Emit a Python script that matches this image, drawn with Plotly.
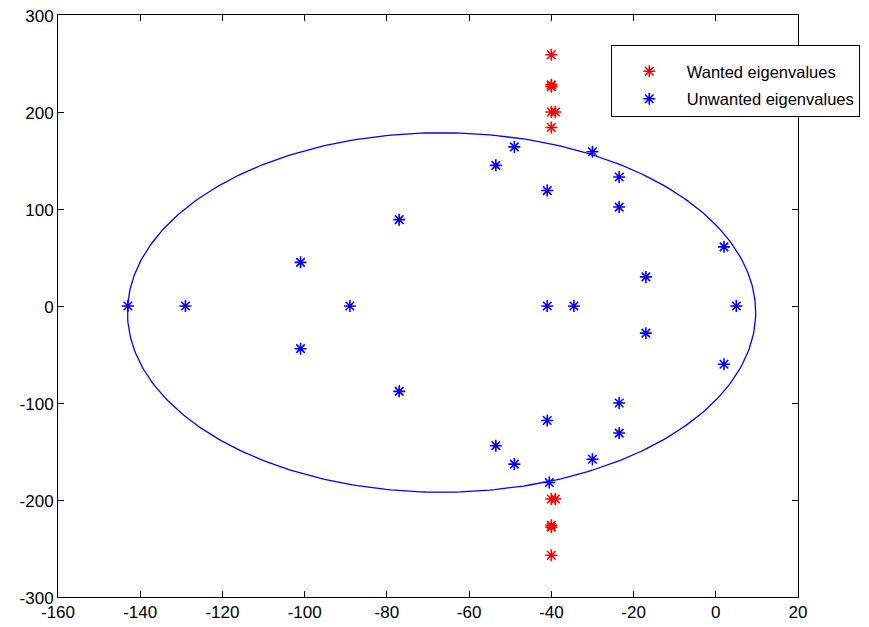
import numpy as np
import plotly.graph_objects as go

# Wanted eigenvalues (red)
wanted_re = [-40, -40, -40, -40, -39, -40, -39, -40, -40, -40, -40]
wanted_im = [259, 228, 226, 200, 200, 184, -199, -199, -226, -228, -257]

# Unwanted eigenvalues (blue)
unwanted_re = [-143, -129, -89, -41, -34.5, 5,
               -101, -77, -53.5, -49, -41, -30, -23.5, -23.5, -17, 2,
               -101, -77, -53.5, -49, -41, -30, -23.5, -23.5, -17, 2, -40.5]
unwanted_im = [0, 0, 0, 0, 0, 0,
               45, 89, 145, 164, 119, 159, 133, 102, 30, 61,
               -44, -88, -144, -163, -118, -158, -131, -100, -28, -60, -182]

# Ellipse (contour) parameters
ell_cx, ell_cy = -66.7, -6.7
ell_a, ell_b = 76.4, 185.3

x_ticks = [-160, -140, -120, -100, -80, -60, -40, -20, 0, 20]
y_ticks = [-300, -200, -100, 0, 100, 200, 300]

t = np.linspace(0, 2 * np.pi, 400)
ell_x = ell_cx + ell_a * np.cos(t)
ell_y = ell_cy + ell_b * np.sin(t)

fig = go.Figure()
fig.add_trace(go.Scatter(x=ell_x, y=ell_y, mode="lines",
                         line=dict(color="#0000ff", width=1.3),
                         showlegend=False, hoverinfo="skip"))
fig.add_trace(go.Scatter(x=wanted_re, y=wanted_im, mode="markers",
                         name="Wanted eigenvalues", legendgroup="w",
                         marker=dict(symbol="asterisk-open", size=10, color="#ff0000",
                                     line=dict(color="#ff0000", width=1.6))))
fig.add_trace(go.Scatter(x=unwanted_re, y=unwanted_im, mode="markers",
                         name="Unwanted eigenvalues", legendgroup="u",
                         marker=dict(symbol="asterisk-open", size=10, color="#0000ff",
                                     line=dict(color="#0000ff", width=1.6))))

axis_common = dict(showgrid=False, zeroline=False, showline=True,
                   linecolor="black", linewidth=1, mirror="ticks",
                   ticks="inside", ticklen=6, tickcolor="black", automargin=False,
                   ticklabeloverflow="allow",
                   tickfont=dict(family="Liberation Sans, Arial", size=17, color="black"))

fig.update_xaxes(range=[-160, 20], tickvals=x_ticks, ticktext=[str(v) for v in x_ticks],
                 **axis_common)
fig.update_yaxes(range=[-300, 300], tickvals=y_ticks, ticktext=[str(v) for v in y_ticks],
                 ticklabelshift=1, **axis_common)

fig.update_layout(
    width=869, height=627,
    margin=dict(l=50, r=79, t=7, b=38, autoexpand=False),
    plot_bgcolor="white", paper_bgcolor="white",
    legend=dict(x=0.747, y=0.948, xanchor="left", yanchor="top",
                bgcolor="white", bordercolor="black", borderwidth=1,
                font=dict(family="Liberation Sans, Arial", size=16.5, color="black"),
                title=dict(text=" ", font=dict(size=6)),
                itemwidth=65, traceorder="grouped", tracegroupgap=3),
)

fig.write_html("out.html")
